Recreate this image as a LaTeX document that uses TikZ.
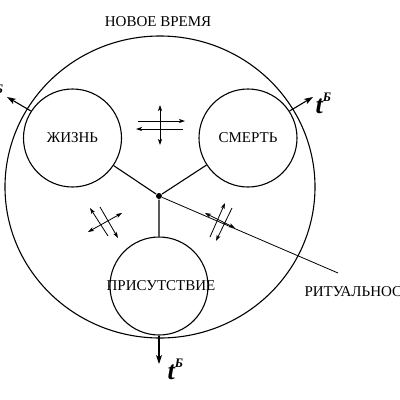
\documentclass[tikz,border=0pt]{standalone}
\usepackage{fontspec}
\setmainfont{Liberation Serif}
\usepackage{tikz}
\usetikzlibrary{arrows,arrows.meta,positioning}
\newcommand{\tB}{{\fontsize{26}{26}\selectfont\bfseries\itshape t\raisebox{12pt}{\fontsize{13}{13}\selectfont Б}}}

\begin{document}
\begin{tikzpicture}[>={Stealth[length=6pt,width=4pt,inset=1.5pt]},x=1pt,y=-1pt,line width=1.1pt,
    font=\fontsize{15}{17}\selectfont,
    sphere/.style={circle,draw,minimum size=98pt,inner sep=0pt},
    hub/.style={circle,fill,inner sep=0pt,minimum size=6pt},
    tlabel/.style={anchor=base west,inner sep=0pt},
    thin arrow/.style={line width=0.8pt},
    time arrow/.style={-{Stealth[length=9pt,width=6pt,inset=2.5pt]}}]
  \useasboundingbox (0,0) rectangle (400,400);

  % the era
  \draw (160,187) ellipse [x radius=155, y radius=151];
  \node (era) at (158,22) {НОВОЕ ВРЕМЯ};

  \node[sphere,label=center:ЖИЗНЬ]       (life)  at (72.5,138) {};
  \node[sphere,label=center:СМЕРТЬ]      (death) at (248,138)  {};
  \node[sphere,label={[xshift=2pt]center:ПРИСУТСТВИЕ}] (pres) at (159,286) {};
  \node[hub]                             (mid)   at (159,196)  {};

  \path[draw]
        (mid) -- (life)
        (mid) -- (death)
        (mid) -- (pres);

  % ritual line
  \coordinate (rit) at (338,273);
  \draw[thin arrow] (mid) -- (rit);
  \node[anchor=west,inner sep=0pt] (ritlab) at (304,292) {РИТУАЛЬНОСТЬ};

  % time arrows
  \coordinate (tl) at (7,97);
  \coordinate (tr) at (313,97);
  \coordinate (tb) at (159,364);
  \path[time arrow]
        (life.147)   edge (tl)
        (death.33)   edge (tr)
        (pres.south) edge (tb);
  \node[tlabel] (tbl) at (-13,105) {\tB};
  \node[tlabel] (tbr) at (315,113) {\tB};
  \node[tlabel] (tbb) at (167,379) {\tB};

  % exchanges
  \draw[thin arrow,->]  (138,121) -- (185,121);
  \draw[thin arrow,->]  (183,129) -- (136,129);
  \draw[thin arrow,<->] (160,105) -- (160,145);

  \draw[thin arrow,->]  (108,236) -- (90,208);
  \draw[thin arrow,->]  (100,207) -- (118,238);
  \draw[thin arrow,<->] (88,232) -- (122,213);

  \draw[thin arrow,->]  (210,237) -- (225,203);
  \draw[thin arrow,->]  (232,208) -- (216,241);
  \draw[thin arrow,<->] (205,213) -- (235,228);
\end{tikzpicture}
\end{document}
